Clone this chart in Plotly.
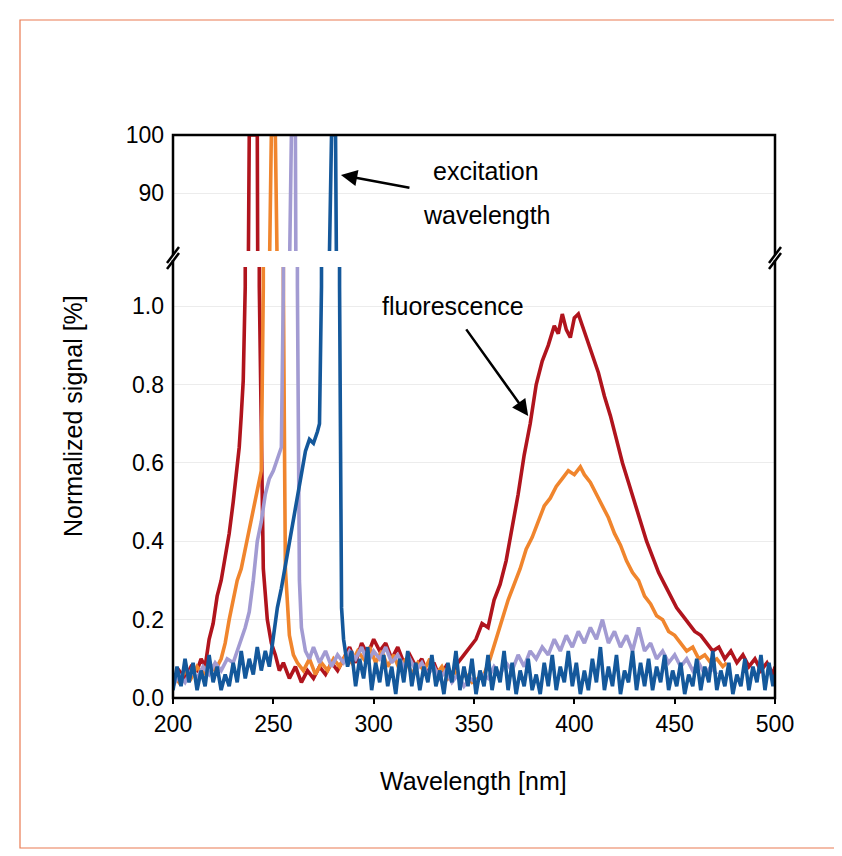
import plotly.graph_objects as go

# spectra as (wavelength nm, normalized signal %) pairs
red = [(200, .05), (203, .07), (206, .05), (209, .08), (212, .07), (214, .10), (216, .08), (218, .15), (220, .19), (222, .26),
       (224, .30), (226, .36), (228, .42), (230, .50), (232, .60), (233, .64), (234, .72), (235, .81), (236, 1.05), (238, 100),
       (242, 100), (243, 1.05), (245, .33), (247, .20), (249, .14), (251, .11), (253, .07), (255, .09), (258, .05), (261, .08),
       (264, .04), (267, .07), (270, .05), (273, .08), (276, .06), (279, .09), (282, .07), (285, .10), (288, .13), (291, .09),
       (294, .14), (297, .11), (300, .15), (303, .12), (306, .14), (309, .10), (312, .13), (315, .09), (318, .11), (321, .08),
       (324, .10), (327, .06), (330, .09), (333, .05), (336, .08), (339, .06), (342, .09), (345, .11), (348, .13), (351, .15),
       (354, .19), (357, .18), (360, .25), (363, .29), (366, .35), (369, .43), (372, .52), (375, .62), (378, .70), (381, .80),
       (384, .86), (387, .90), (390, .95), (392, .93), (394, .98), (396, .94), (398, .92), (400, .97), (402, .98), (404, .95),
       (406, .92), (409, .87), (412, .83), (415, .77), (418, .72), (421, .66), (424, .60), (427, .55), (430, .50), (433, .45),
       (436, .40), (439, .36), (442, .32), (445, .29), (448, .26), (451, .23), (454, .21), (457, .19), (460, .17), (463, .16),
       (466, .14), (469, .12), (472, .13), (475, .10), (478, .12), (481, .09), (484, .11), (487, .08), (490, .10), (493, .07),
       (496, .09), (499, .06), (500, .08)]

orange = [(200, .06), (203, .04), (206, .07), (209, .05), (212, .08), (215, .06), (218, .09), (221, .07), (224, .10), (226, .14),
          (228, .20), (230, .25), (232, .30), (234, .33), (236, .38), (238, .43), (240, .48), (242, .54), (244, .58), (245, 1.05),
          (249, 100), (251, 100), (255, 1.05), (256, .33), (258, .16), (260, .11), (262, .09), (265, .07), (268, .10), (271, .06),
          (274, .09), (277, .07), (280, .10), (283, .08), (286, .11), (289, .09), (292, .12), (295, .10), (298, .13), (301, .09),
          (304, .12), (307, .08), (310, .11), (313, .07), (316, .10), (319, .06), (322, .09), (325, .07), (328, .10), (331, .06),
          (334, .08), (337, .05), (340, .07), (343, .05), (346, .06), (349, .04), (352, .05), (355, .06), (358, .10), (361, .15),
          (364, .20), (367, .25), (370, .29), (373, .33), (376, .38), (379, .41), (382, .45), (385, .49), (388, .51), (391, .54),
          (394, .56), (397, .58), (400, .57), (403, .59), (405, .57), (408, .55), (411, .52), (414, .49), (417, .46), (420, .42),
          (423, .39), (426, .35), (429, .32), (432, .30), (435, .26), (438, .24), (441, .21), (444, .20), (447, .17), (450, .16),
          (453, .14), (456, .12), (459, .13), (462, .10), (465, .11), (468, .09), (471, .10), (474, .08), (476, .09)]

lavender = [(200, .03), (203, .06), (206, .04), (209, .07), (212, .05), (215, .08), (218, .06), (221, .09), (224, .07), (227, .10),
            (230, .09), (232, .12), (234, .15), (236, .18), (238, .22), (240, .30), (242, .40), (244, .45), (246, .52), (248, .56),
            (250, .58), (252, .61), (254, .64), (255, 1.05), (259, 100), (261, 100), (262, 1.05), (263, .30), (264, .18), (266, .12),
            (268, .10), (270, .13), (273, .09), (276, .12), (279, .08), (282, .11), (285, .09), (288, .12), (291, .10), (294, .13),
            (297, .09), (300, .12), (303, .10), (306, .13), (309, .09), (312, .11), (315, .08), (318, .10), (321, .07), (324, .09),
            (327, .06), (330, .08), (333, .05), (336, .07), (339, .04), (342, .06), (345, .03), (348, .05), (351, .04), (354, .06),
            (357, .05), (360, .08), (363, .06), (366, .09), (369, .07), (372, .11), (375, .08), (378, .12), (381, .10), (384, .13),
            (387, .11), (390, .15), (393, .12), (396, .16), (399, .13), (402, .17), (405, .14), (408, .18), (411, .15), (414, .20),
            (417, .14), (420, .17), (423, .13), (426, .16), (429, .12), (432, .18), (435, .12), (438, .14), (441, .10), (444, .12),
            (447, .09), (450, .11), (453, .08), (456, .10), (459, .07), (462, .09), (465, .06), (468, .08), (471, .06)]

blue = [(200, .02), (202, .08), (204, .03), (206, .10), (208, .04), (210, .09), (212, .02), (214, .07), (216, .03), (218, .11),
        (220, .04), (222, .08), (224, .02), (226, .06), (228, .03), (230, .09), (232, .04), (234, .12), (236, .05), (238, .10),
        (240, .06), (242, .13), (244, .07), (246, .12), (248, .08), (250, .15), (252, .23), (254, .28), (256, .34), (258, .40),
        (260, .45), (262, .52), (264, .58), (266, .63), (268, .66), (270, .65), (272, .68), (273, .70), (274, 1.05), (279, 100),
        (281, 100), (283, 1.05), (284, .23), (285, .15), (287, .08), (289, .12), (291, .03), (293, .10), (295, .05), (297, .13),
        (299, .02), (301, .09), (303, .04), (305, .11), (307, .03), (309, .08), (311, .01), (313, .10), (315, .04), (317, .12),
        (319, .03), (321, .09), (323, .02), (325, .08), (327, .04), (329, .11), (331, .03), (333, .07), (335, .01), (337, .09),
        (339, .04), (341, .12), (343, .02), (345, .08), (347, .03), (349, .10), (351, .01), (353, .07), (355, .03), (357, .11),
        (359, .02), (361, .08), (363, .04), (365, .12), (367, .02), (369, .09), (371, .01), (373, .07), (375, .03), (377, .10),
        (379, .02), (381, .06), (383, .01), (385, .09), (387, .03), (389, .11), (391, .02), (393, .08), (395, .04), (397, .12),
        (399, .03), (401, .09), (403, .01), (405, .07), (407, .02), (409, .10), (411, .04), (413, .13), (415, .02), (417, .08),
        (419, .03), (421, .11), (423, .01), (425, .07), (427, .04), (429, .12), (431, .02), (433, .09), (435, .03), (437, .10),
        (439, .02), (441, .08), (443, .04), (445, .11), (447, .02), (449, .07), (451, .03), (453, .09), (455, .01), (457, .06),
        (459, .03), (461, .10), (463, .02), (465, .08), (467, .04), (469, .12), (471, .02), (473, .07), (475, .03), (477, .09),
        (479, .01), (481, .06), (483, .03), (485, .10), (487, .02), (489, .08), (491, .04), (493, .11), (495, .02), (497, .09),
        (499, .03), (500, .06)]

series = [(red, '#b0141d'), (orange, '#f0852d'), (lavender, '#a29bd2'), (blue, '#14589b')]

FONT = 'Liberation Sans, Arial, sans-serif'
W, H = 842, 856
x0, x1 = 165, 767      # plot area in pixels
top0, top1 = 127, 243  # upper panel (80-100)
bot0, bot1 = 259, 690  # lower panel (0-1.1)

fig = go.Figure()
for data, color in series:
    xs = [p[0] for p in data]
    ys = [p[1] for p in data]
    # draw in both panels, each clips to its own range
    fig.add_trace(go.Scatter(x=xs, y=ys, mode='lines', line=dict(color=color, width=3.6),
                             xaxis='x', yaxis='y', showlegend=False, hoverinfo='skip'))
    fig.add_trace(go.Scatter(x=xs, y=ys, mode='lines', line=dict(color=color, width=3.6),
                             xaxis='x2', yaxis='y2', showlegend=False, hoverinfo='skip'))

xd = [x0 / W, x1 / W]
fig.update_layout(
    width=W, height=H, margin=dict(l=0, r=0, t=0, b=0, pad=0, autoexpand=False),
    paper_bgcolor='white', plot_bgcolor='white',
    font=dict(family=FONT, color='black', size=23),
    xaxis=dict(domain=xd, range=[200, 500], anchor='y', tickvals=[200, 250, 300, 350, 400, 450, 500],
               showgrid=False, zeroline=False, ticks='outside', ticklen=5, tickwidth=2, tickcolor='black',
               tickfont=dict(size=23), automargin=False),
    yaxis=dict(domain=[1 - bot1 / H, 1 - bot0 / H], range=[0, 1.1], anchor='x',
               tickvals=[0, 0.2, 0.4, 0.6, 0.8, 1.0], tickformat='.1f',
               showgrid=True, gridcolor='#ececec', gridwidth=1, zeroline=False, ticks='', ticklabelstandoff=8,
               tickfont=dict(size=23), automargin=False),
    xaxis2=dict(domain=xd, range=[200, 500], anchor='y2', visible=False, automargin=False),
    yaxis2=dict(domain=[1 - top1 / H, 1 - top0 / H], range=[80, 100], anchor='x2',
                tickvals=[90, 100], showgrid=True, gridcolor='#ececec', zeroline=False, ticks='',
                ticklabelstandoff=8, tickfont=dict(size=23), automargin=False),
)

line = dict(color='black', width=2.5)
shapes = [
    # outer orange frame
    dict(type='rect', xref='paper', yref='paper', x0=12 / W, x1=830 / W, y0=1 - 840 / H, y1=1 - 12 / H,
         line=dict(color='#ea7b52', width=1.2)),
    # plot frame
    dict(type='rect', xref='paper', yref='paper', x0=x0 / W, x1=x1 / W, y0=1 - bot1 / H, y1=1 - top0 / H, line=line),
]
# white gap band across the break, then the // marks on both sides
shapes.append(dict(type='rect', xref='paper', yref='paper', x0=(x0 - 8) / W, x1=(x1 + 8) / W,
                   y0=1 - 252 / H, y1=1 - 247 / H, fillcolor='white', line=dict(width=0), layer='above'))
for xc in (x0, x1):
    for dy in (-3, 3):
        shapes.append(dict(type='line', xref='paper', yref='paper', x0=(xc - 6) / W, x1=(xc + 6) / W,
                           y0=1 - (258 + dy) / H, y1=1 - (242 + dy) / H, line=line, layer='above'))
fig.update_layout(shapes=shapes)

anns = [
    dict(text='excitation', x=478 / W, y=1 - 163 / H),
    dict(text='wavelength', x=478 / W, y=1 - 207 / H),
    dict(text='fluorescence', x=445 / W, y=1 - 298 / H),
    dict(text='Wavelength [nm]', x=466 / W, y=1 - 773 / H),
    dict(text='Normalized signal [%]', x=65 / W, y=1 - 408 / H, textangle=-90),
]
for a in anns:
    fig.add_annotation(xref='paper', yref='paper', showarrow=False, xanchor='center', yanchor='middle',
                       font=dict(size=25, family=FONT, color='black'), **a)

# arrows: excitation peak and fluorescence band
fig.add_annotation(x=283.7, y=93.1, xref='x2', yref='y2', text='', showarrow=True, ax=70, ay=13,
                   arrowhead=2, arrowsize=1.3, arrowwidth=2.5, arrowcolor='black')
fig.add_annotation(x=377, y=0.72, xref='x', yref='y', text='', showarrow=True, ax=-63, ay=-88,
                   arrowhead=2, arrowsize=1.3, arrowwidth=2.5, arrowcolor='black')

fig.write_html('out.html')
